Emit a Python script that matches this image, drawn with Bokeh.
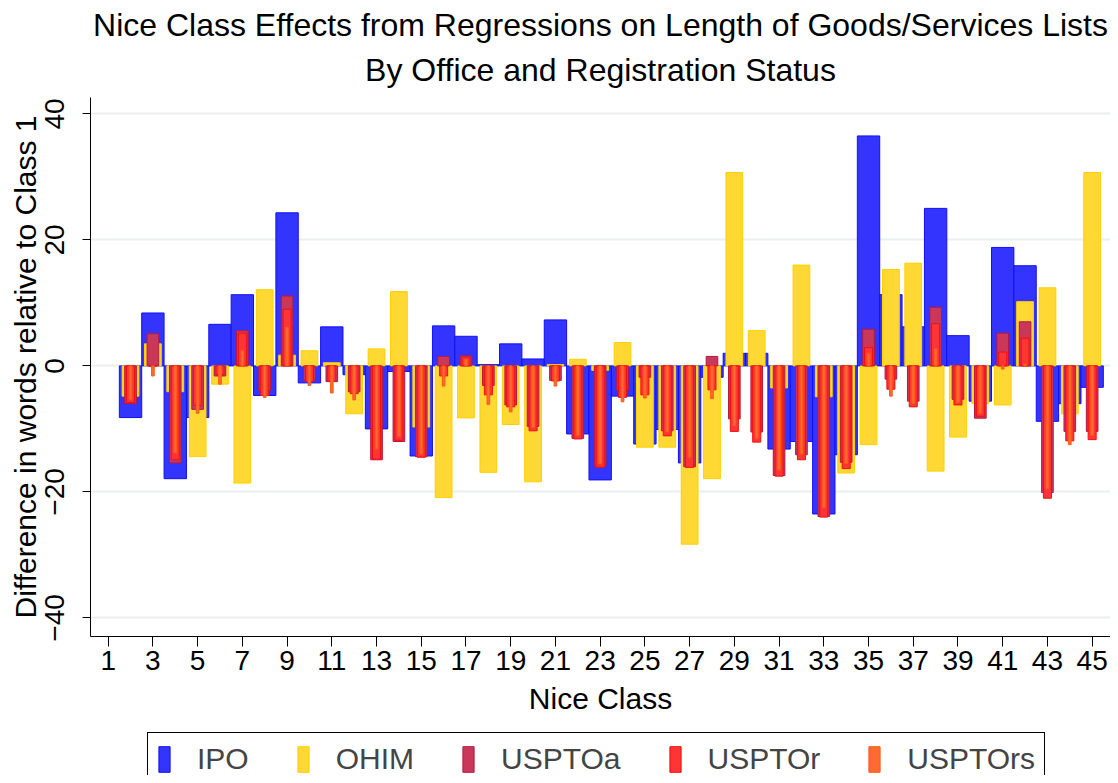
from bokeh.plotting import figure
from bokeh.models import (ColumnDataSource, Legend, LegendItem, Title, FixedTicker,
                          Range1d)
from bokeh.layouts import column
from bokeh.embed import file_html
from bokeh.resources import INLINE

# ---------------- data ----------------
nice_class = [2, 3, 4, 5, 6, 7, 8, 9, 10, 11, 12, 13, 14, 15, 16, 17, 18, 19, 20, 21, 22, 23,
              24, 25, 26, 27, 28, 29, 30, 31, 32, 33, 34, 35, 36, 37, 38, 39, 40, 41, 42, 43, 44, 45]

ipo = [-8.2, 8.4, -17.9, -8.2, 6.6, 11.3, -4.7, 24.3, -2.7, 6.2, -1.4, -10.0, -0.9, -14.3,
       6.35, 4.7, 0.2, 3.5, 1.1, 7.3, -10.8, -18.1, -4.8, -12.4, -10.1, -15.4, -1.8, 2.0,
       2.0, -13.2, -12.0, -23.5, -14.1, 36.5, 11.3, 6.2, 25.0, 4.8, -5.6, 18.8, 15.9, -8.8,
       -6.0, -3.4]
ohim = [-4.8, 3.5, -4.1, -14.4, -2.9, -18.6, 12.1, 1.7, 2.4, 0.5, -7.6, 2.7, 11.8, -9.7,
        -20.9, -8.25, -16.9, -9.3, -18.4, 0.2, 1.05, -0.7, 3.7, -12.9, -12.9, -28.3, -17.9,
        30.7, 5.6, -3.5, 16.0, -4.9, -17.0, -12.5, 15.3, 16.3, -16.7, -11.3, -6.0, -6.2, 10.2,
        12.4, -7.6, 30.7]
uspto_a = [-6.0, 5.1, -15.4, -6.9, -1.6, 5.6, -3.9, 11.1, -2.3, -2.5, -4.1, -14.9, -12.0,
           -14.4, 1.5, 1.6, -3.1, -6.2, -9.6, -2.3, -11.5, -15.9, -3.9, -1.8, -10.3, -16.0,
           1.5, -8.4, -10.5, -17.4, -14.1, -23.9, -15.3, 5.8, -2.1, -5.6, 9.3, -5.3, -8.3,
           5.2, 7.0, -20.1, -10.4, -10.4]
uspto_r = [-5.8, 0.0, -14.9, -6.3, -1.4, 5.2, -4.7, 9.0, -2.5, -2.4, -4.4, -14.8, -11.8,
           -14.5, -1.6, 1.4, -4.6, -6.5, -10.3, -2.4, -11.6, -16.1, -5.0, -4.6, -11.1, -16.1,
           -3.8, -10.4, -12.1, -17.5, -14.9, -24.0, -16.3, 2.9, -3.7, -6.5, 6.7, -6.2, -8.0,
           2.2, 4.4, -21.0, -11.9, -11.7]
uspto_rs = [-5.3, -1.6, -13.8, -7.5, -2.9, 2.4, -5.0, 6.1, -3.1, -4.3, -5.4, -13.2, -11.2,
            -14.0, -3.2, 1.0, -6.1, -7.3, -9.8, -3.2, -11.0, -15.5, -5.7, -5.1, -10.5, -14.5,
            -5.2, -9.5, -11.5, -16.5, -14.0, -22.5, -15.5, 2.0, -4.8, -6.0, 2.7, -5.8, -7.5,
            -0.5, 0.3, -19.5, -12.5, -11.0]

x_ticks = [1, 3, 5, 7, 9, 11, 13, 15, 17, 19, 21, 23, 25, 27, 29, 31, 33, 35, 37, 39, 41, 43, 45]
y_ticks = [-40, -20, 0, 20, 40]

series_names = ["IPO", "OHIM", "USPTOa", "USPTOr", "USPTOrs"]

# ---------------- styling ----------------
FONT = "Liberation Sans"
fills = ["#3434FF", "#FFD833", "#C9385B", "#FF3434", "#FF6A33"]
lines = ["#1010F5", "#FFD000", "#B8183E", "#F01010", "#FF5A1A"]
widths = [1.0, 0.75, 0.52, 0.36, 0.12]

source = ColumnDataSource(dict(x=nice_class, IPO=ipo, OHIM=ohim, USPTOa=uspto_a,
                               USPTOr=uspto_r, USPTOrs=uspto_rs))

MAIN_H = 730
p = figure(width=1110, height=MAIN_H, output_backend="svg", toolbar_location=None,
           x_range=Range1d(0.21, 45.82), y_range=Range1d(-42.95, 42.6),
           min_border_left=90, min_border_right=0, min_border_top=97,
           min_border_bottom=MAIN_H - 636)
p.outline_line_color = None
p.background_fill_color = "white"
p.border_fill_color = "white"

renderers = []
for name, fc, lc, w in zip(series_names, fills, lines, widths):
    r = p.vbar(x="x", top=name, bottom=0, width=w, source=source,
               fill_color=fc, line_color=lc, line_width=1)
    renderers.append(r)

# titles (line 2 added first so it sits closest to the plot)
p.add_layout(Title(text="By Office and Registration Status", align="center",
                   text_font=FONT, text_font_size="32px", text_font_style="normal",
                   text_color="black", standoff=19), "above")
p.add_layout(Title(text="Nice Class Effects from Regressions on Length of Goods/Services Lists",
                   align="center", text_font=FONT, text_font_size="32px",
                   text_font_style="normal", text_color="black", standoff=-4), "above")

# axes
p.xaxis.ticker = FixedTicker(ticks=x_ticks)
p.yaxis.ticker = FixedTicker(ticks=y_ticks)
for ax in (p.xaxis[0], p.yaxis[0]):
    ax.axis_line_color = "black"
    ax.axis_line_width = 1
    ax.major_tick_line_color = "black"
    ax.major_tick_in = 0
    ax.minor_tick_line_color = None
    ax.major_label_text_font = FONT
    ax.major_label_text_font_size = "28px"
    ax.major_label_text_color = "black"
    ax.axis_label_text_font = FONT
    ax.axis_label_text_font_style = "normal"
    ax.axis_label_text_color = "black"

p.xaxis.major_tick_out = 10
p.xaxis.major_label_standoff = 4
p.xaxis.axis_label = "Nice Class"
p.xaxis.axis_label_text_font_size = "30px"
p.xaxis.axis_label_standoff = 9

p.yaxis.major_tick_out = 8
p.yaxis.major_label_orientation = "vertical"
p.yaxis.major_label_standoff = 18
p.yaxis.axis_label = "Difference in words relative to Class 1"
p.yaxis.axis_label_text_font_size = "30px"
p.yaxis.axis_label_standoff = 1

p.xgrid.grid_line_color = None
p.ygrid.grid_line_color = "#E8F0F2"
p.ygrid.grid_line_width = 2

# legend in its own strip below the chart (frames of the two plots are aligned)
LEG_H = 775 - MAIN_H
lg = figure(width=1110, height=LEG_H, output_backend="svg", toolbar_location=None,
            x_axis_location=None, y_axis_location=None,
            x_range=Range1d(0, 1), y_range=Range1d(0, 1),
            min_border_left=90, min_border_right=0, min_border_top=0, min_border_bottom=0)
lg.outline_line_color = None
lg.xgrid.grid_line_color = None
lg.ygrid.grid_line_color = None
offscreen = ColumnDataSource(dict(x=[5.0], top=[1.0]))
leg_renderers = []
for name, fc, lc, w in zip(series_names, fills, lines, widths):
    leg_renderers.append(lg.vbar(x="x", top="top", width=w, source=offscreen,
                                 fill_color=fc, line_color=lc, line_width=1))

items = [LegendItem(label=n, renderers=[r]) for n, r in zip(series_names, leg_renderers)]
legend = Legend(items=items, orientation="horizontal", location=(57, -11),
                border_line_color="black", border_line_width=1, border_line_alpha=1,
                glyph_width=14, glyph_height=32, label_standoff=26, spacing=47,
                padding=9, margin=0,
                label_text_font=FONT, label_text_font_size="30px",
                background_fill_color="white", background_fill_alpha=1)
lg.add_layout(legend, "center")

page = column(p, lg, spacing=0)
open("out.html", "w").write(file_html(page, INLINE))
